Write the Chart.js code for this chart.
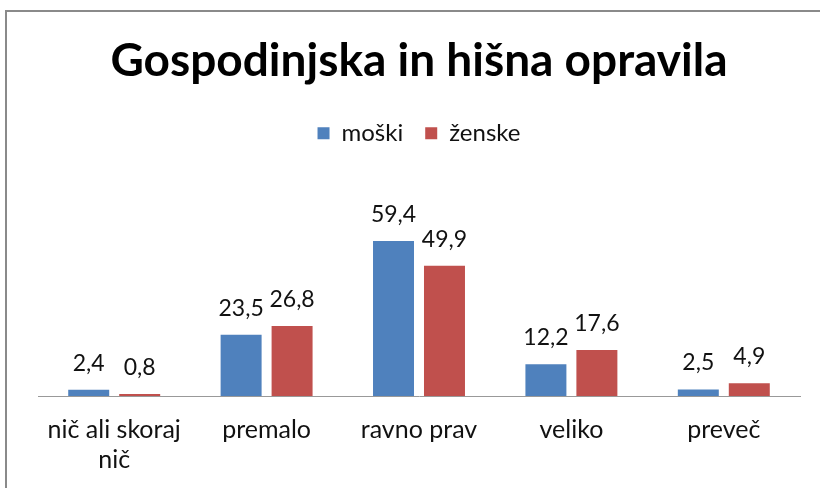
<!DOCTYPE html>
<html>
<head>
<meta charset="utf-8">
<script src="https://cdn.jsdelivr.net/npm/chart.js@4/dist/chart.umd.min.js"></script>
<style>
  html, body { margin: 0; padding: 0; background: #fff; }
  #wrap { width: 820px; height: 488px; position: relative; }
</style>
</head>
<body>
<div id="wrap"><canvas id="c" width="820" height="488"></canvas></div>
<script>
const chartTitle = 'Gospodinjska in hišna opravila';
const categories = [['nič ali skoraj', 'nič'], 'premalo', 'ravno prav', 'veliko', 'preveč'];
const seriesNames = ['moški', 'ženske'];
const moski = [2.4, 23.5, 59.4, 12.2, 2.5];
const zenske = [0.8, 26.8, 49.9, 17.6, 4.9];
const yMax = 70;

const FONT = 'Lato, "Open Sans", sans-serif';
const TEXT = '#111111';

const frame = {
  id: 'frame',
  beforeDraw(chart) {
    const ctx = chart.ctx;
    ctx.save();
    ctx.fillStyle = '#ffffff';
    ctx.fillRect(0, 0, chart.width, chart.height);
    ctx.fillStyle = '#8a8a8a';
    ctx.fillRect(5, 10, 2, chart.height);
    ctx.fillRect(5, 10, chart.width, 2);
    ctx.restore();
  }
};

const valueLabels = {
  id: 'valueLabels',
  afterDatasetsDraw(chart) {
    const ctx = chart.ctx;
    ctx.save();
    ctx.font = '23px ' + FONT;
    ctx.fillStyle = TEXT;
    ctx.textAlign = 'center';
    ctx.textBaseline = 'alphabetic';
    chart.data.datasets.forEach((ds, di) => {
      const meta = chart.getDatasetMeta(di);
      meta.data.forEach((bar, i) => {
        const txt = ds.data[i].toFixed(1).replace('.', ',');
        ctx.fillText(txt, bar.x, bar.y - 19);
      });
    });
    ctx.restore();
  }
};

new Chart(document.getElementById('c'), {
  type: 'bar',
  data: {
    labels: categories,
    datasets: [
      { label: seriesNames[0], data: moski, backgroundColor: '#4F81BD' },
      { label: seriesNames[1], data: zenske, backgroundColor: '#C0504D' }
    ]
  },
  options: {
    responsive: false,
    animation: false,
    devicePixelRatio: 1,
    categoryPercentage: 0.669,
    barPercentage: 0.804,
    layout: { padding: { left: 38, right: 20, top: 0, bottom: 0 } },
    plugins: {
      title: {
        display: true,
        text: chartTitle,
        color: '#000',
        font: { family: FONT, size: 46, weight: 'bold', lineHeight: 1.2 },
        padding: { top: 34, bottom: 10 }
      },
      legend: {
        display: true,
        labels: {
          color: TEXT,
          font: { family: FONT, size: 24 },
          boxWidth: 12,
          boxHeight: 12,
          padding: 22
        }
      },
      tooltip: { enabled: false }
    },
    scales: {
      x: {
        position: 'bottom',
        grid: { display: false, drawTicks: false },
        border: { display: true, color: '#999999', width: 1 },
        ticks: { color: TEXT, font: { family: FONT, size: 25, lineHeight: 1.2 }, padding: 19, maxRotation: 0, autoSkip: false },
        afterFit(s) { s.height = 92; }
      },
      xTop: {
        type: 'category',
        position: 'top',
        display: true,
        grid: { display: false, drawTicks: false },
        border: { display: false },
        ticks: { display: false },
        afterFit(s) { s.height = 58; }
      },
      y: {
        display: false,
        min: 0,
        max: yMax
      }
    }
  },
  plugins: [frame, valueLabels]
});
</script>
</body>
</html>
